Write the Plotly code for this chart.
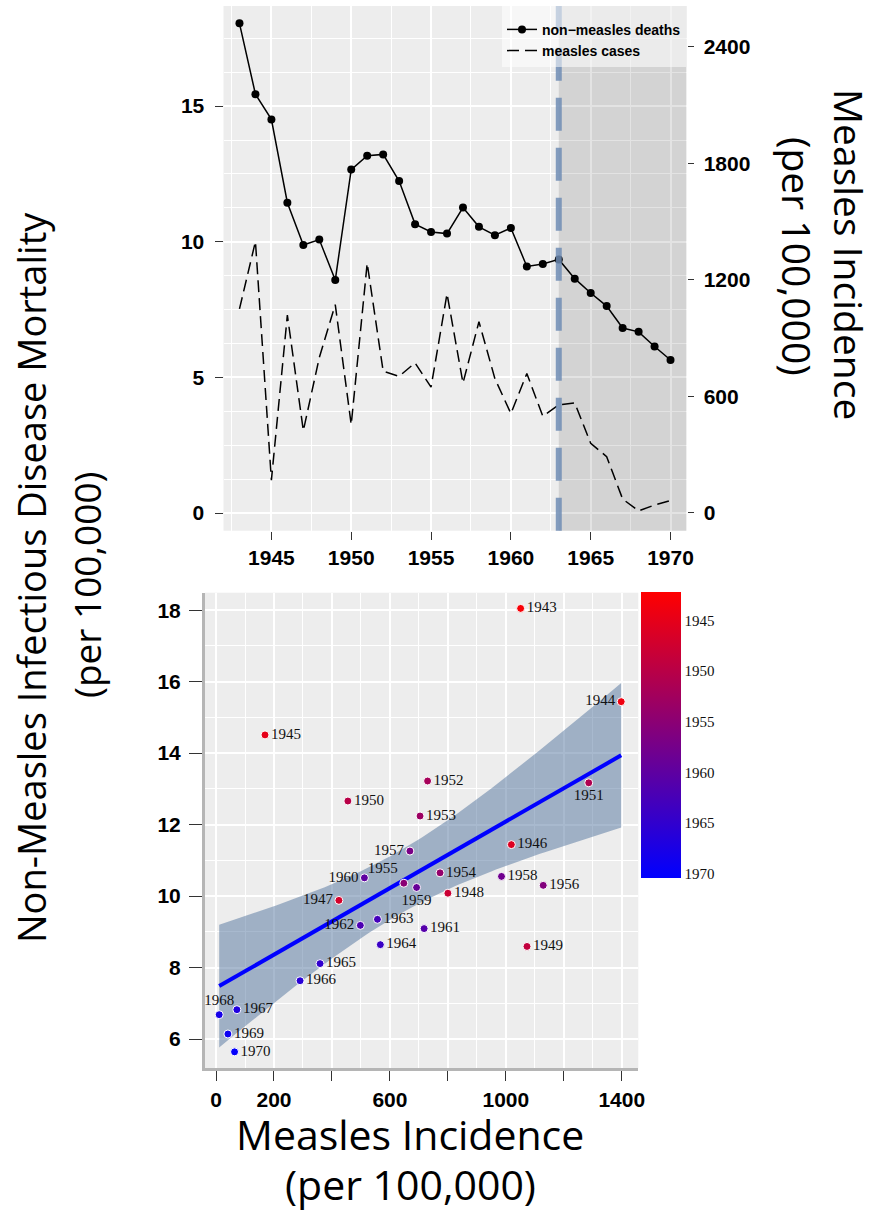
import numpy as np
import plotly.graph_objects as go

# ---------------- data ----------------
years = [1943, 1944, 1945, 1946, 1947, 1948, 1949, 1950, 1951, 1952, 1953, 1954, 1955, 1956,
         1957, 1958, 1959, 1960, 1961, 1962, 1963, 1964, 1965, 1966, 1967, 1968, 1969, 1970]
measles = [1051, 1398, 169, 1019, 424, 800, 1073, 455, 1286, 730, 704, 773, 648, 1129,
           669, 985, 692, 512, 718, 498, 557, 567, 359, 290, 72, 11, 41, 64]
mortality = [18.05, 15.44, 14.51, 11.44, 9.88, 10.08, 8.59, 12.66, 13.17, 13.22, 12.24, 10.65, 10.36, 10.30,
             11.26, 10.55, 10.24, 10.51, 9.09, 9.18, 9.35, 8.64, 8.11, 7.63, 6.82, 6.68, 6.14, 5.64]
label_pos = ["middle right", "middle left", "middle right", "middle right", "middle left", "middle right",
             "middle right", "middle right", "bottom center", "middle right", "middle right", "middle right",
             "top left", "middle right", "middle left", "middle right", "bottom center", "middle left",
             "middle right", "middle left", "middle right", "middle right", "middle right", "middle right",
             "middle right", "top center", "middle right", "middle right"]
vaccine_year = 1963
top_x_ticks = [1945, 1950, 1955, 1960, 1965, 1970]
left_y_ticks = [0, 5, 10, 15]
right_y_ticks = [0, 600, 1200, 1800, 2400]
bottom_x_ticks = [0, 200, 400, 600, 800, 1000, 1200, 1400]
bottom_x_text = ["0", "200", "", "600", "", "1000", "", "1400"]
bottom_y_ticks = [6, 8, 10, 12, 14, 16, 18]
cbar_ticks = [1945, 1950, 1955, 1960, 1965, 1970]

W, H = 879, 1214
def px(x):
    return x / W
def py(y):
    return 1 - y / H

# ---------------- regression ----------------
xa = np.array(measles, dtype=float)
ya = np.array(mortality, dtype=float)
n = len(xa)
b1, b0 = np.polyfit(xa, ya, 1)
xs = np.linspace(xa.min(), xa.max(), 100)
yfit = b0 + b1 * xs
resid = ya - (b0 + b1 * xa)
s = np.sqrt(np.sum(resid ** 2) / (n - 2))
sxx = np.sum((xa - xa.mean()) ** 2)
tval = 2.0555
hw = tval * s * np.sqrt(1 / n + (xs - xa.mean()) ** 2 / sxx)

fig = go.Figure()

# ---------------- top chart ----------------
fig.add_trace(go.Scatter(
    x=years, y=mortality, mode="lines+markers", name="non\u2212measles deaths",
    line=dict(color="black", width=1.5), marker=dict(color="black", size=8),
    xaxis="x", yaxis="y"))
fig.add_trace(go.Scatter(
    x=years, y=measles, mode="lines", name="measles cases",
    line=dict(color="black", width=1.5, dash="12px,6px"),
    xaxis="x", yaxis="y2"))

# ---------------- bottom chart ----------------
fig.add_trace(go.Scatter(
    x=np.concatenate([xs, xs[::-1]]), y=np.concatenate([yfit + hw, (yfit - hw)[::-1]]),
    fill="toself", fillcolor="rgba(82,116,158,0.5)", line=dict(width=0),
    mode="lines", hoverinfo="skip", showlegend=False, xaxis="x3", yaxis="y3"))
fig.add_trace(go.Scatter(
    x=xs, y=yfit, mode="lines", line=dict(color="#0000FF", width=4),
    showlegend=False, xaxis="x3", yaxis="y3"))
fig.add_trace(go.Scatter(
    x=measles, y=mortality, mode="markers+text", text=[str(y) for y in years],
    textposition=label_pos,
    textfont=dict(family="Liberation Serif", size=15, color="#111111"),
    marker=dict(size=8, color=[-y for y in years], colorscale=[[0, "rgb(0,0,255)"], [1, "rgb(255,0,0)"]],
                cmin=-1970.4, cmax=-1942.2, line=dict(color="white", width=1),
                showscale=True,
                colorbar=dict(
                    x=px(641), xanchor="left", y=py(592), yanchor="top",
                    lenmode="pixels", len=286, thicknessmode="pixels", thickness=40,
                    tickvals=[-t for t in cbar_ticks], ticktext=[str(t) for t in cbar_ticks],
                    ticks="", outlinewidth=0, xpad=0, ypad=0,
                    tickfont=dict(family="Liberation Serif", size=15, color="#111111"))),
    showlegend=False, xaxis="x3", yaxis="y3"))

tickfont = dict(family="Liberation Sans", size=21, color="black", weight="bold")
grid_major = dict(showgrid=True, gridcolor="white", gridwidth=2)

fig.update_layout(
    width=W, height=H, margin=dict(l=0, r=0, t=0, b=0, autoexpand=False),
    paper_bgcolor="white", plot_bgcolor="#EDEDED",
    showlegend=True,
    legend=dict(x=px(686), xanchor="right", y=py(6), yanchor="top",
                bgcolor="rgba(255,255,255,0.55)", borderwidth=0,
                title=dict(text=" ", font=dict(size=6)),
                font=dict(family="Liberation Sans Narrow, Liberation Sans", size=14, color="black", weight="bold"),
                itemwidth=30, tracegroupgap=0),
    xaxis=dict(domain=[px(223.5), px(686.5)], range=[1942, 1971], anchor="y",
               tickvals=top_x_ticks, ticks="outside", ticklen=8, tickcolor="#333",
               tickfont=tickfont, zeroline=False, showline=False, **grid_major,
               minor=dict(dtick=2.5, tick0=1945, showgrid=True, gridcolor="white", gridwidth=1, ticks="")),
    yaxis=dict(domain=[py(530.7), py(6)], range=[-0.65, 18.69], anchor="x",
               tickvals=left_y_ticks, ticks="outside", ticklen=8, tickcolor="#333",
               tickfont=tickfont, zeroline=False, showline=False, ticklabelstandoff=6, **grid_major,
               minor=dict(dtick=1.25, tick0=0, showgrid=True, gridcolor="white", gridwidth=1, ticks="")),
    yaxis2=dict(overlaying="y", side="right", anchor="x", range=[-91.2, 2611],
                tickvals=right_y_ticks, ticks="outside", ticklen=6, tickcolor="#333",
                tickfont=tickfont, showgrid=False, zeroline=False, ticklabelstandoff=6),
    xaxis3=dict(domain=[px(205), px(638.3)], range=[-38, 1457], anchor="y3",
                tickvals=bottom_x_ticks, ticktext=bottom_x_text, ticks="outside", ticklen=10, tickcolor="#333",
                tickfont=tickfont, zeroline=False, showline=True, linecolor="#B5B5B5", linewidth=3,
                **grid_major,
                minor=dict(dtick=100, tick0=0, showgrid=True, gridcolor="white", gridwidth=1, ticks="")),
    yaxis3=dict(domain=[py(1068.3), py(592.7)], range=[5.18, 18.49], anchor="x3",
                tickvals=bottom_y_ticks, ticks="outside", ticklen=13, tickcolor="#333",
                tickfont=tickfont, zeroline=False, showline=True, linecolor="#B5B5B5", linewidth=3,
                ticklabelstandoff=4, **grid_major,
                minor=dict(dtick=1, tick0=0, showgrid=True, gridcolor="white", gridwidth=1, ticks="")),
)

# shaded post-vaccine region and vaccine line
fig.add_shape(type="rect", xref="x", yref="y domain", x0=vaccine_year, x1=1971, y0=0, y1=1,
              fillcolor="rgba(0,0,0,0.11)", line=dict(width=0), layer="above")
fig.add_shape(type="line", xref="x", yref="y domain", x0=vaccine_year, x1=vaccine_year, y0=0, y1=1,
              line=dict(color="rgba(110,140,180,0.85)", width=6, dash="33px,17px"), layer="above")

ann = [
    dict(text="Measles Incidence", x=px(410), y=py(1134), textangle=0, size=41, ya="middle"),
    dict(text="(per 100,000)", x=px(410), y=0, textangle=0, size=41, ya="bottom"),
    dict(text="Measles Incidence", x=px(849), y=py(254), textangle=90, size=39, ya="middle"),
    dict(text="(per 100,000)", x=px(797), y=py(256), textangle=90, size=39, ya="middle"),
    dict(text="Non-Measles Infectious Disease Mortality", x=px(31), y=py(578), textangle=-90, size=38, ya="middle"),
    dict(text="(per 100,000)", x=px(86), y=py(585), textangle=-90, size=37, ya="middle"),
]
for a in ann:
    fig.add_annotation(text=a["text"], x=a["x"], y=a["y"], xref="paper", yref="paper",
                       xanchor="center", yanchor=a["ya"], showarrow=False, textangle=a["textangle"],
                       font=dict(family="Open Sans", size=a["size"], color="black"))

fig.write_html("out.html")
